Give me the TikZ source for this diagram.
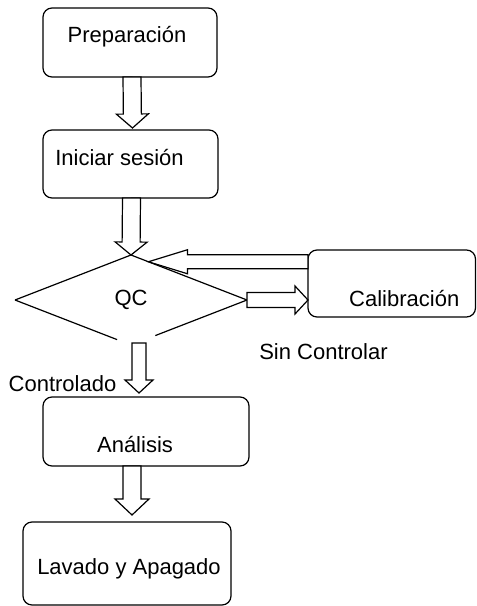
\documentclass[tikz,border=0pt]{standalone}
\usepackage{fontspec}
\setmainfont{Liberation Sans}
\usetikzlibrary{calc,shapes.geometric}

\tikzset{
  box/.style={draw, rounded corners=9pt, inner sep=0pt, outer sep=0pt},
  decision/.style={diamond, inner sep=0pt, outer sep=0pt, minimum width=232, minimum height=90},
  blockarr/.style={draw, fill=white, line join=miter}
}
% hollow block arrow: from, to, shaft half width, head half width, head length
\newcommand{\blockarrow}[5]{%
  \draw[blockarr] let \p1=(#1), \p2=(#2),
    \n1={veclen(\x2-\x1,\y2-\y1)}, \n2={atan2(\y2-\y1,\x2-\x1)} in
    [shift={(\p1)}, rotate=\n2]
    (0,#3) -- (\n1-#5,#3) -- (\n1-#5,#4) -- (\n1,0) -- (\n1-#5,-#4) -- (\n1-#5,-#3) -- (0,-#3) -- cycle;}

\begin{document}
\begin{tikzpicture}[x=1pt,y=-1pt,line width=1.2pt,font=\fontsize{22}{26}\selectfont]
  \useasboundingbox (0,0) rectangle (477,606);
  % boxes
  \node[box, minimum width=174, minimum height=69, label={[shift={(-3,-5.5)}]center:Preparación}] (prep) at (130,42.5) {};
  \node[box, minimum width=175, minimum height=68, label={[shift={(-11,-6)}]center:Iniciar sesión}] (inic) at (130.5,164) {};
  \node[decision] (qc) at (131,300) {QC};
  \node[box, minimum width=167.5, minimum height=67, label={[shift={(12.5,15.5)}]center:Calibración}] (calib) at (391.75,283.5) {};
  \node[box, minimum width=206, minimum height=69, label={[shift={(-11,13.5)}]center:Análisis}] (ana) at (146,431.5) {};
  \node[box, minimum width=208, minimum height=83, label={[shift={(2,5.5)}]center:Lavado y Apagado}] (lav) at (127,563.5) {};
  \node (ctrl) at (62.5,384) {Controlado};
  \node (sinc) at (323.5,352) {Sin Controlar};

  % diamond outline, open at the bottom
  \draw (qc.west) -- (qc.north) -- (qc.east) -- ($(qc.east)!0.79!(qc.south)$);
  \draw ($(qc.south)!0.12!(qc.west)$) -- (qc.west);

  % arrows
  \coordinate (back) at ($(qc.north)!0.15!(qc.east)$);
  \blockarrow{$(prep.south)+(2,0)$}{$(inic.north)+(2,-2)$}{9}{16}{14}
  \blockarrow{$(inic.south)+(1,0)$}{qc.north}{9}{16}{13}
  \blockarrow{calib.west |- back}{back}{7}{12}{39}
  \blockarrow{qc.east}{calib.west |- qc.east}{7.5}{14}{13}
  \blockarrow{$(qc.south)+(8,-2)$}{$(qc.south |- ana.north)+(8,-4)$}{7}{14}{13}
  \blockarrow{$(ana.south)+(-14,0)$}{$(lav.north)+(5,-7)$}{9}{17}{16}
\end{tikzpicture}
\end{document}
